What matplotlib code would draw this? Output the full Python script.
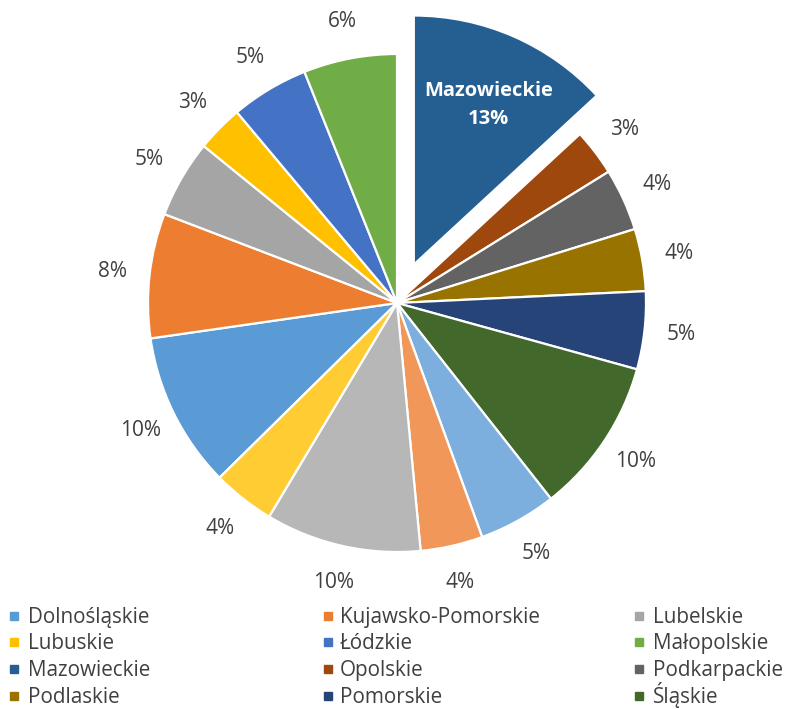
import matplotlib
matplotlib.use("Agg")
import matplotlib.pyplot as plt
import numpy as np

# Share of each voivodeship (percent), in alphabetical order
regions = ["Dolnośląskie", "Kujawsko-Pomorskie", "Lubelskie", "Lubuskie",
           "Łódzkie", "Małopolskie", "Mazowieckie", "Opolskie",
           "Podkarpackie", "Podlaskie", "Pomorskie", "Śląskie",
           "Świętokrzyskie", "Warmińsko-Mazurskie", "Wielkopolskie",
           "Zachodniopomorskie"]
shares = [10, 8, 5, 3, 5, 6, 13, 3, 4, 4, 5, 10, 5, 4, 10, 4]
colors = ["#5B9BD5", "#ED7D31", "#A5A5A5", "#FFC000", "#4472C4", "#70AD47",
          "#255E91", "#9E480E", "#636363", "#997300", "#264478", "#43682B",
          "#7CAFDD", "#F1975A", "#B7B7B7", "#FFCD33"]
highlight = "Mazowieckie"
legend_entries = 12

FONT = "Open Sans"
TEXT_GRAY = "#404040"

W, H = 787, 709
fig = plt.figure(figsize=(W / 100, H / 100), dpi=100)
ax = fig.add_axes([0, 0, 1, 1])

radius = 249
center = (397, H - 303)
hi = regions.index(highlight)
start = 90 + 360 * sum(shares[:hi]) / sum(shares)
explode = [42 if r == highlight else 0 for r in regions]
pct_text = iter(f"{v}%" for v in shares)

wedges, texts, autotexts = ax.pie(
    shares, colors=colors, explode=explode, startangle=start,
    counterclock=False, radius=radius, center=center,
    autopct=lambda p: next(pct_text), pctdistance=1.15,
    wedgeprops=dict(edgecolor="white", linewidth=1.6),
    textprops=dict(color=TEXT_GRAY, fontsize=15, family=FONT),
    frame=False)

# Label of the pulled-out slice sits inside it
w = wedges[hi]
tm = np.deg2rad((w.theta1 + w.theta2) / 2)
cx, cy = w.center
lab = autotexts[hi]
lab.set_text(f"{highlight}\n{shares[hi]}%")
lab.set_position((cx + 0.70 * radius * np.cos(tm) + 5,
                  cy + 0.70 * radius * np.sin(tm)))
lab.set_color("white")
lab.set_fontweight("bold")
lab.set_fontsize(14.5)
lab.set_linespacing(1.55)

ax.set_xlim(0, W)
ax.set_ylim(0, H)
ax.set_aspect("equal")
ax.axis("off")

# Legend: three columns, filled row by row
col_marker_x = [14, 327.5, 639]
col_text_x = [27.5, 340, 653]
first_baseline = 622.7
row_step = 26.7
for i in range(legend_entries):
    row, col = divmod(i, 3)
    base = first_baseline + row * row_step
    ax.plot(col_marker_x[col], H - (base - 7), linestyle="none", marker="s",
            markersize=5.8, markerfacecolor=colors[i],
            markeredgecolor=colors[i], clip_on=False)
    ax.text(col_text_x[col], H - base, regions[i], va="baseline", ha="left",
            family=FONT, fontsize=14.9, color=TEXT_GRAY)

fig.savefig("out.png", dpi=100)
